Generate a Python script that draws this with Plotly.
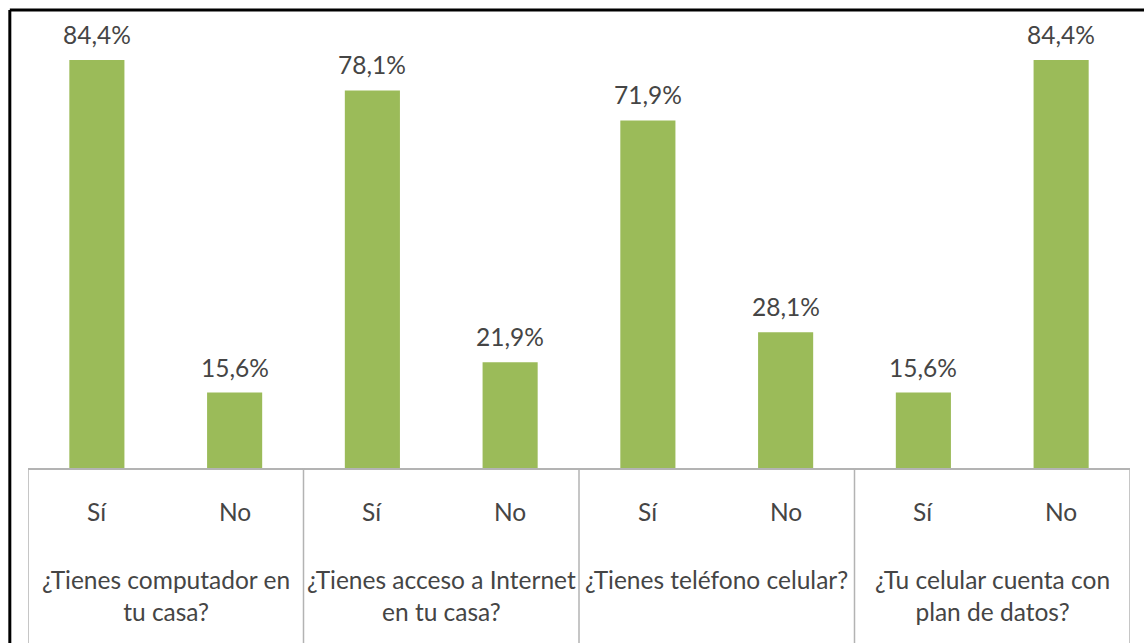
import plotly.graph_objects as go

# Survey answers: share of respondents (%) for each question and answer
questions = [
    "¿Tienes computador en<br>tu casa?",
    "¿Tienes acceso a Internet<br>en tu casa?",
    "¿Tienes teléfono celular?",
    "¿Tu celular cuenta con<br>plan de datos?",
]
answers = ["Sí", "No"]
si_values = [84.4, 78.1, 71.9, 15.6]
no_values = [15.6, 21.9, 28.1, 84.4]

values = []
answer_labels = []
for s, n in zip(si_values, no_values):
    values += [s, n]
    answer_labels += answers
positions = list(range(len(values)))

GREEN = "#9BBB59"
TEXT = "#454545"
GRID = "#B3B3B3"
FONT = "Lato"
SIZE = 24.5

fig = go.Figure()
fig.add_trace(go.Bar(
    x=positions,
    y=values,
    marker=dict(color=GREEN, line=dict(width=0)),
    hoverinfo="skip",
))

annotations = []
# value labels above each bar
for p, v in zip(positions, values):
    annotations.append(dict(
        x=p, y=v, xref="x", yref="y", yanchor="bottom", yshift=9,
        text=f"{v:.1f}%".replace(".", ","), showarrow=False,
        font=dict(family=FONT, size=SIZE, color=TEXT),
    ))
# answer labels under the axis
for p, a in zip(positions, answer_labels):
    annotations.append(dict(
        x=p, y=0, xref="x", yref="y", yanchor="middle", yshift=-43,
        text=a, showarrow=False,
        font=dict(family=FONT, size=SIZE, color=TEXT),
    ))
# question labels, one per pair of bars
for i, q in enumerate(questions):
    annotations.append(dict(
        x=2 * i + 0.5, y=0, xref="x", yref="y", yanchor="top", yshift=-95,
        text=q, showarrow=False, align="center",
        font=dict(family=FONT, size=SIZE, color=TEXT),
    ))

shapes = []
# category box separators below the axis
for i in range(len(questions) + 1):
    xb = 2 * i - 0.5
    shapes.append(dict(
        type="line", xref="x", yref="paper", x0=xb, x1=xb, y0=0, y1=-0.45,
        line=dict(color=GRID, width=1.5),
    ))
# outer frame (left and top edges)
shapes.append(dict(type="line", xref="paper", yref="paper",
                   x0=-0.0165, x1=1.02, y0=1.0, y1=1.0,
                   line=dict(color="black", width=3)))
shapes.append(dict(type="line", xref="paper", yref="paper",
                   x0=-0.0165, x1=-0.0165, y0=1.0, y1=-0.45,
                   line=dict(color="black", width=3)))

fig.update_layout(
    width=1144, height=643,
    margin=dict(l=28, r=14, t=10, b=175),
    paper_bgcolor="white", plot_bgcolor="white",
    bargap=0.6, showlegend=False,
    annotations=annotations, shapes=shapes,
    xaxis=dict(range=[-0.5, len(values) - 0.5], showticklabels=False,
               showgrid=False, zeroline=False, showline=True,
               linecolor=GRID, linewidth=1.5, ticks=""),
    yaxis=dict(range=[0, 94.74], visible=False, showgrid=False,
               zeroline=False),
)

fig.write_html("out.html")
